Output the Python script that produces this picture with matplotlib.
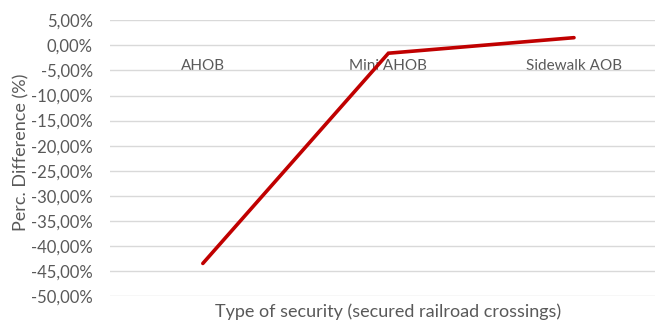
import matplotlib
matplotlib.use("Agg")
import matplotlib.pyplot as plt
from matplotlib.ticker import FuncFormatter, MultipleLocator

categories = ["AHOB", "Mini AHOB", "Sidewalk AOB"]
perc_difference = [-43.5, -1.55, 1.55]
x_title = "Type of security (secured railroad crossings)"
y_title = "Perc. Difference (%)"

plt.rcParams["font.family"] = ["Lato", "DejaVu Sans"]
text_grey = "#595959"

fig = plt.figure(figsize=(6.55, 3.22), dpi=100)
ax = fig.add_axes([0.168, 0.0807, 0.850, 0.856])

x = list(range(len(categories)))
ax.plot(x, perc_difference, color="#c00000", linewidth=2.6, solid_capstyle="round",
        solid_joinstyle="miter", zorder=3)

ax.set_xlim(-0.5, len(categories) - 0.5)
ax.set_ylim(-50, 5)
ax.yaxis.set_major_locator(MultipleLocator(5))
ax.yaxis.set_major_formatter(FuncFormatter(lambda v, _: f"{v:.2f}%".replace(".", ",")))
ax.grid(axis="y", color="#d9d9d9", linewidth=1.0)
ax.set_axisbelow(True)

for side in ("top", "right", "left"):
    ax.spines[side].set_visible(False)
ax.spines["bottom"].set_position(("data", 0))
ax.spines["bottom"].set_visible(False)

ax.set_xticks(x)
ax.set_xticklabels(categories)
ax.tick_params(axis="x", length=0, pad=10, labelsize=11, labelcolor=text_grey)
ax.tick_params(axis="y", length=0, pad=12.5, labelsize=12, labelcolor=text_grey)

fig.text(388 / 655, 1 - 312 / 322, x_title, ha="center", va="center",
         fontsize=13, color=text_grey)
fig.text(21 / 655, 1 - 152 / 322, y_title, ha="center", va="center",
         rotation=90, fontsize=13, color=text_grey)

fig.savefig("out.png", dpi=100)
